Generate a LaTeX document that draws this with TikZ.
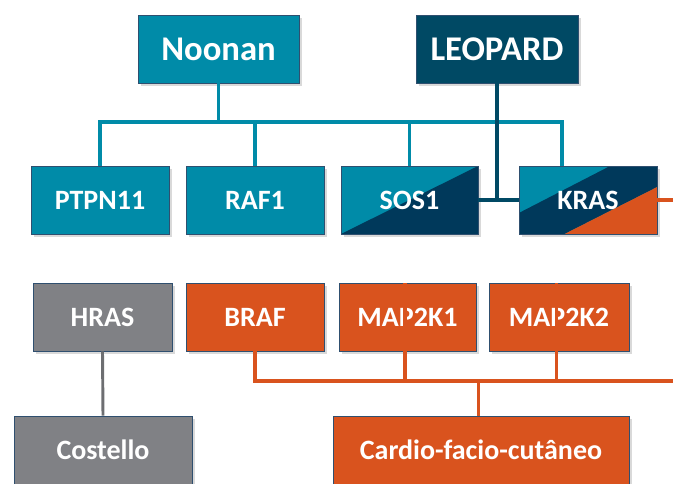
\documentclass[tikz,border=0pt]{standalone}
\usepackage{fontspec}
\setmainfont{Carlito}
\usetikzlibrary{shadows,calc}

\definecolor{noonanteal}{RGB}{0,139,168}
\definecolor{leoparddark}{RGB}{0,73,100}
\definecolor{krasdark}{RGB}{0,57,91}
\definecolor{cfcorange}{RGB}{217,83,30}
\definecolor{costgray}{RGB}{128,129,133}
\definecolor{boxedge}{RGB}{47,79,111}

\begin{document}
\begin{tikzpicture}[x=0.75pt,y=-0.75pt,
  gene/.style={draw=boxedge,line width=0.6pt,text=white,inner sep=0pt,
    font=\bfseries\fontsize{21}{24}\selectfont,
    minimum width=103.5pt,minimum height=51pt,
    drop shadow={opacity=0.3,shadow xshift=2.5pt,shadow yshift=-2.5pt}},
  syndrome/.style={gene,font=\bfseries\fontsize{26}{30}\selectfont},
  wire/.style={line width=2.6pt},
  ]
  \useasboundingbox (0,0) rectangle (673,483);
  \clip (0,0) rectangle (673,483);

  % syndromes on top
  \node[syndrome,fill=noonanteal,minimum width=120.75pt] (noonan) at (218.5,49) {Noonan};
  \node[syndrome,fill=leoparddark,minimum width=121.5pt] (leopard) at (497,49) {LEOPARD};

  % genes of the first row
  \node[gene,fill=noonanteal] (ptpn) at (100,200) {PTPN11};
  \node[gene,fill=noonanteal] (raf) at (255,200) {RAF1};
  \node[gene,fill=noonanteal,minimum width=102.75pt,
    path picture={
      \fill[krasdark] (path picture bounding box.south west) -- (path picture bounding box.north east)
        -- (path picture bounding box.south east) -- cycle;
    }] (sos) at (409.5,200) {SOS1};
  \node[gene,fill=noonanteal,
    path picture={
      \path (path picture bounding box.south west) coordinate (sw)
            (path picture bounding box.north west) coordinate (nw)
            (path picture bounding box.north east) coordinate (ne)
            (path picture bounding box.south east) coordinate (se);
      \fill[krasdark] ($(sw)!0.31!(nw)$) -- ($(nw)!0.66!(ne)$) -- (ne)
        -- ($(se)!0.69!(ne)$) -- ($(sw)!0.33!(se)$) -- (sw) -- cycle;
      \fill[cfcorange] ($(sw)!0.33!(se)$) -- ($(se)!0.69!(ne)$) -- (se) -- cycle;
    }] (kras) at (588,200) {KRAS};

  % genes of the second row
  \node[gene,fill=costgray,minimum width=104.25pt] (hras) at (102.5,317) {HRAS};
  \node[gene,fill=cfcorange] (braf) at (255,317) {BRAF};
  \node[gene,fill=cfcorange,minimum width=102.75pt] (mek1) at (407.5,317) {MAP2K1};
  \node[gene,fill=cfcorange,minimum width=105pt] (mek2) at (559,317) {MAP2K2};

  % syndromes at the bottom
  \node[gene,fill=costgray,minimum width=133.5pt] (costello) at (103,450) {Costello};
  \node[gene,fill=cfcorange,minimum width=222pt] (cfc) at (481,450) {Cardio-facio-cutâneo};

  \coordinate (tbus) at (0,122);
  \coordinate (obus) at (0,381);
  \coordinate (redge) at (673,0);

  \draw[wire,noonanteal] (ptpn.north) -- (ptpn.north |- tbus) -| ([xshift=-19.5pt]kras.north);
  \draw[wire,noonanteal] (noonan.south) -- (noonan.south |- tbus);
  \foreach \g in {raf,sos}
    \draw[wire,noonanteal] (\g.north) -- (\g.north |- tbus);

  \draw[wire,leoparddark] (leopard.south) -- (leopard.south |- sos.east);
  \draw[wire,leoparddark] (sos.east) -- (kras.west);
  \draw[wire,cfcorange] (kras.east) -- (kras.east -| redge);

  \draw[wire,cfcorange] (braf.south) -- (braf.south |- obus) -- (obus -| redge);
  \foreach \g in {mek1,mek2,cfc}
    \draw[wire,cfcorange] ([xshift=-2pt]\g.center |- obus) -- ([xshift=-2pt]\g.center |- \g.north);
  \draw[wire,costgray!85!black,line width=2.2pt] (hras.south) -- (costello.north);
\end{tikzpicture}
\end{document}
